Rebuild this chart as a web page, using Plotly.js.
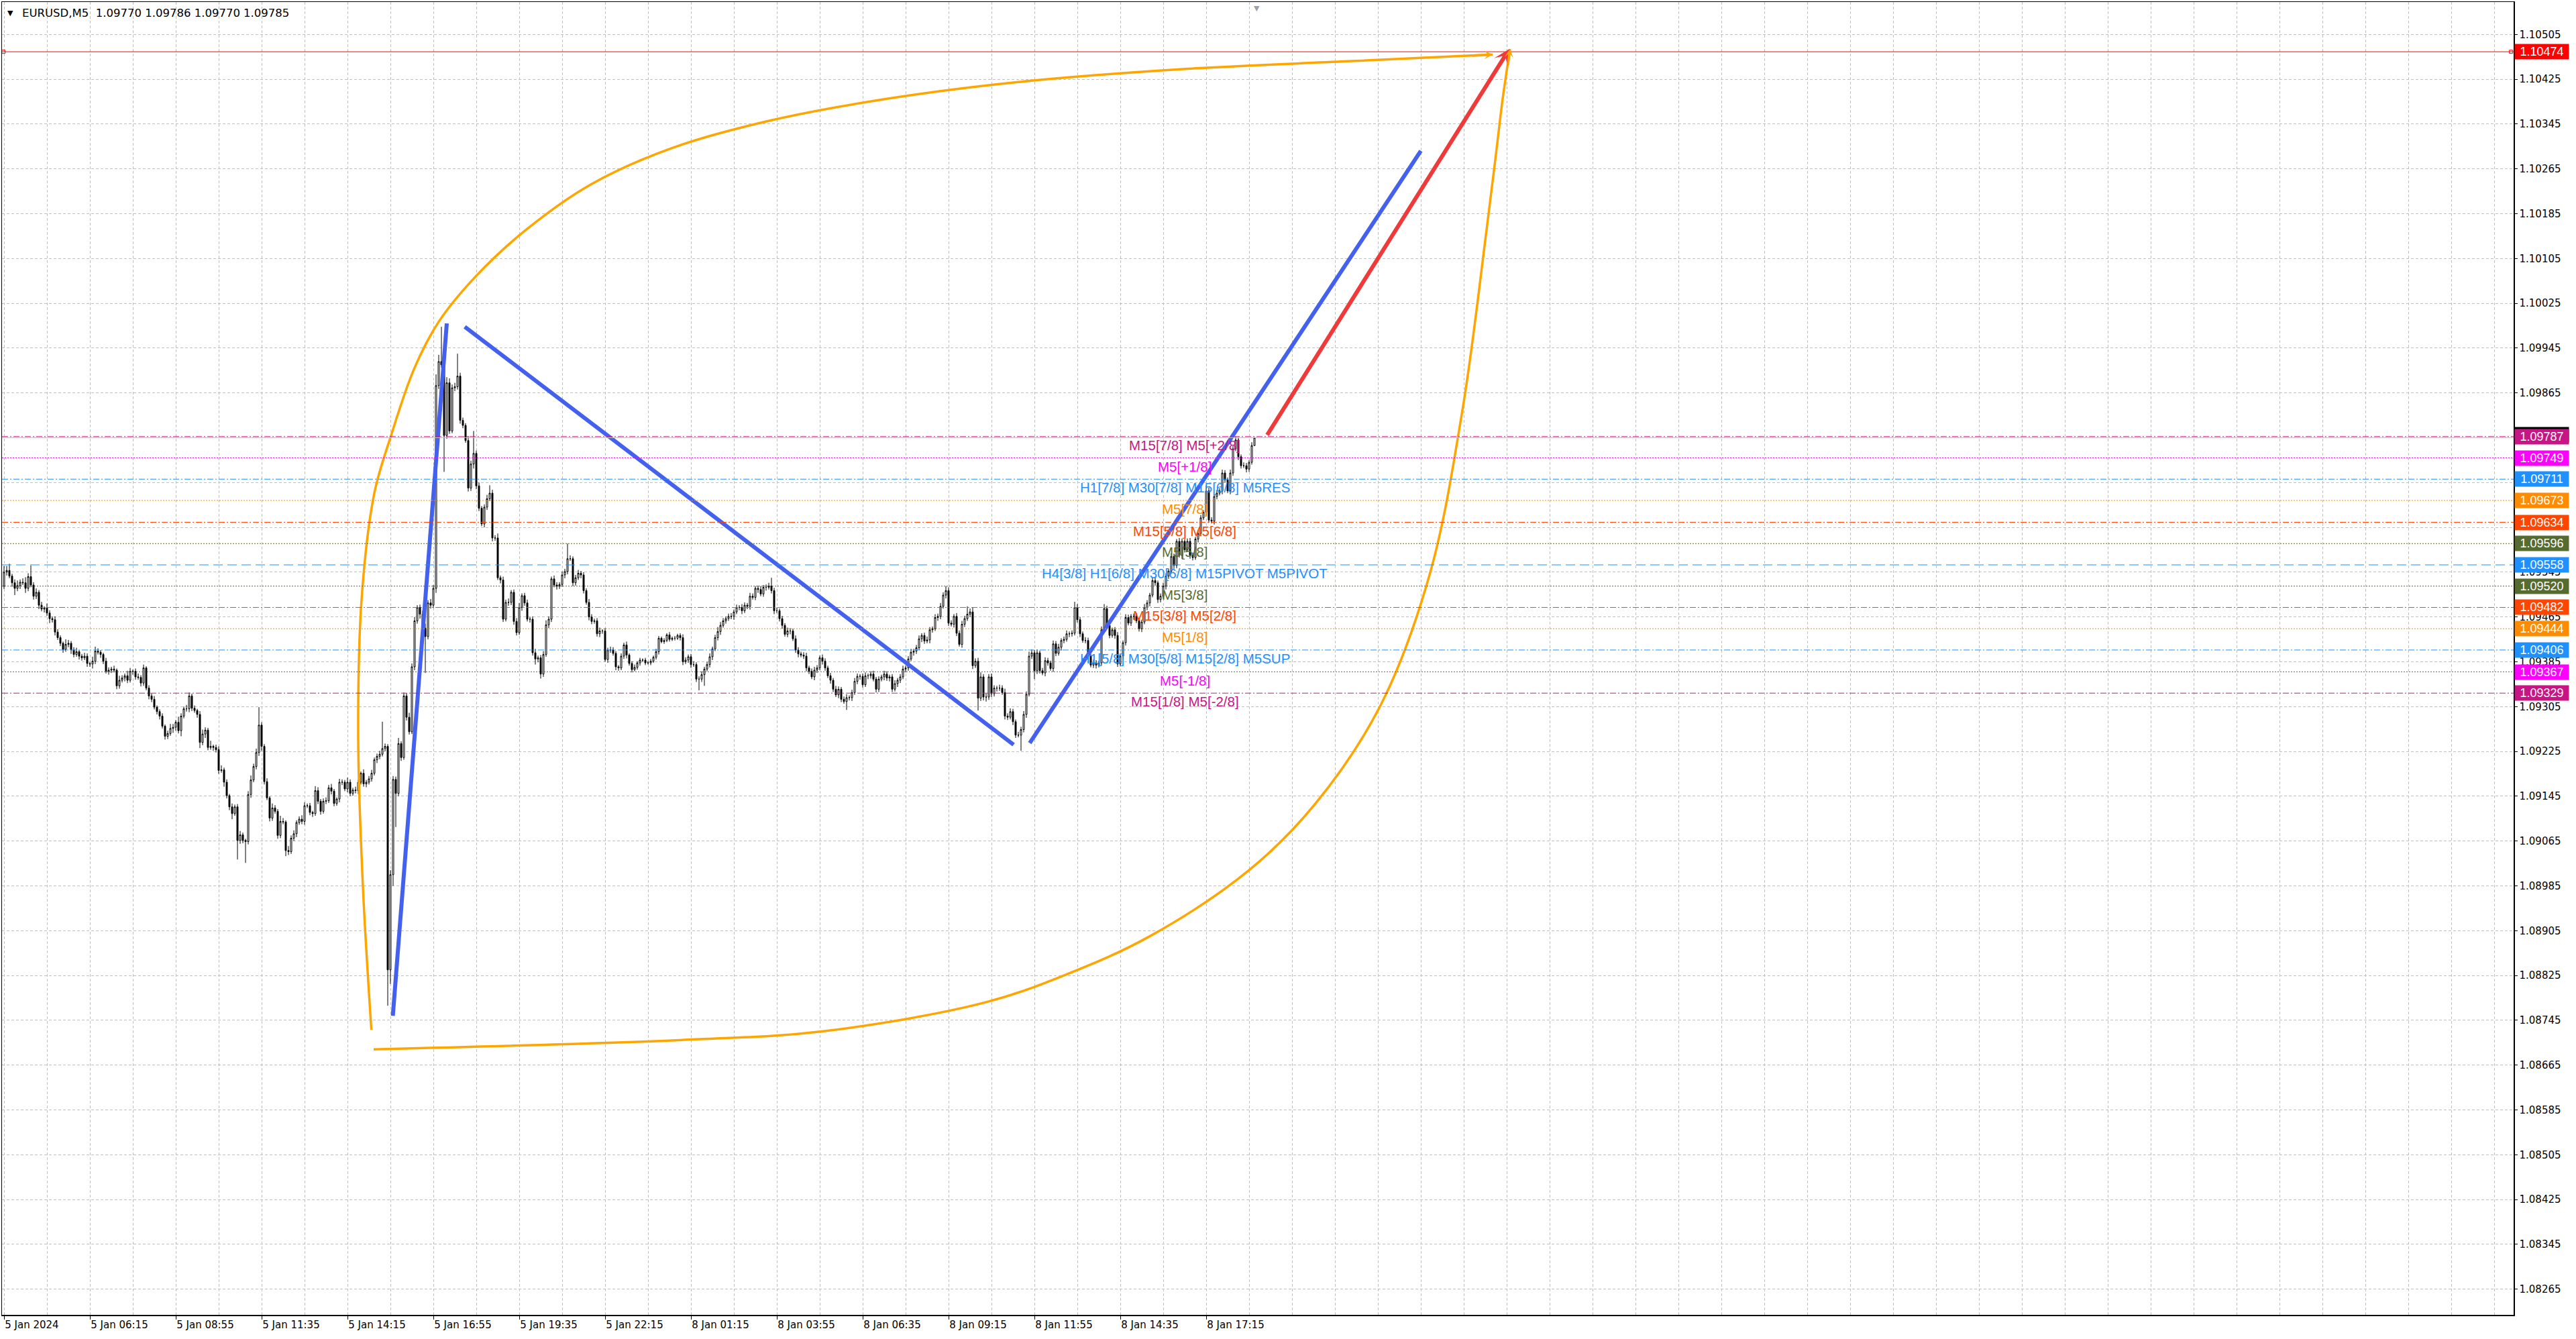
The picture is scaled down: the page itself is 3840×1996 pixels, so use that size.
<!DOCTYPE html>
<html><head><meta charset="utf-8">
<script src="https://cdn.plot.ly/plotly-3.0.1.min.js"></script>
<style>html,body{margin:0;padding:0;background:#fff;}#chart{width:3840px;height:1996px;}</style>
</head><body><div id="chart"></div>
<script>
// ---------------- DATA ----------------
const symbolTitle = 'EURUSD,M5\u00a0\u00a01.09770 1.09786 1.09770 1.09785';
const basePrice = 1.09;       // prices below are stored in points above this base
const pointSize = 0.00001;
const firstOpen = 520;

const closePts = [
545,548,538,526,516,521,527,526,516,537,
522,502,509,486,479,481,472,462,460,438,
428,418,407,416,418,406,398,403,395,392,
395,382,381,386,404,402,398,386,368,370,
372,370,342,352,356,360,352,368,368,358,
357,347,374,338,324,318,304,296,288,270,
252,257,266,268,277,262,288,301,301,324,
302,298,291,241,256,263,232,234,232,228,
191,192,170,146,126,114,126,66,76,66,
64,148,174,198,223,272,234,171,142,106,
124,118,75,100,99,48,46,70,78,98,
104,100,128,128,116,114,155,136,118,136,
137,160,154,132,140,170,170,158,170,150,
156,155,170,186,167,170,176,186,210,216,
220,230,234,-165,5,175,150,239,214,324,
286,260,376,458,482,470,445,430,490,486,
516,878,921,915,789,883,797,874,876,895,
816,807,780,695,738,757,699,659,631,661,
676,686,606,606,535,531,461,491,491,509,
457,437,482,503,490,461,461,401,390,392,
363,398,451,461,533,522,520,523,540,546,
569,569,526,535,543,540,512,491,465,457,
458,435,440,440,389,406,406,400,376,374,
395,415,397,382,371,375,383,388,388,383,
383,386,393,403,427,421,423,433,425,427,
427,432,428,385,388,394,380,380,354,354,
362,372,380,394,408,428,439,450,458,462,
466,466,474,482,482,476,486,484,502,500,
516,514,506,518,518,520,512,476,476,462,
450,434,440,440,426,406,399,397,395,374,
368,358,370,374,392,386,374,360,352,336,
326,336,318,314,321,321,330,350,359,359,
344,360,360,363,354,336,354,358,363,356,
358,336,346,352,358,372,374,390,402,404,
410,426,432,422,424,442,444,464,466,484,
504,512,454,452,466,436,416,452,462,470,
474,378,386,320,358,322,322,358,328,338,
338,338,330,288,286,296,278,254,254,264,
291,327,395,401,369,401,369,365,387,383,
373,417,400,411,423,425,435,435,436,482,
460,435,423,423,395,379,383,379,383,442,
480,450,432,442,432,381,395,419,464,454,
466,466,458,444,456,482,490,504,530,526,
496,502,520,538,547,573,557,600,575,600,
585,600,575,571,604,614,642,652,690,638,
636,680,686,690,722,710,690,722,765,781,
751,735,735,729,741,771,785];

const upperWick = [
11,8,12,4,6,9,5,7,10,6,
20,5,7,4,6,3,8,5,4,6,
5,4,3,9,6,4,5,7,3,4,
6,5,3,8,8,5,4,3,6,5,
4,6,3,8,5,4,9,6,3,5,
6,4,6,3,5,4,6,3,4,5,
3,5,8,6,4,10,5,4,7,6,
4,5,3,6,8,5,4,10,3,5,
6,8,4,5,3,6,4,5,7,4,
3,6,8,5,7,32,5,4,6,3,
8,5,4,10,6,3,8,5,6,4,
5,7,6,4,5,3,8,6,4,5,
6,5,7,4,3,6,5,4,8,5,
4,6,5,3,7,4,5,6,4,5,
6,48,5,4,8,6,5,10,4,6,
5,8,6,7,4,5,6,8,5,7,
6,20,12,62,5,10,8,6,7,40,
6,5,4,8,6,40,5,6,4,5,
7,14,6,5,8,4,6,5,7,4,
5,6,8,4,5,6,4,5,7,4,
5,6,8,5,4,6,5,4,6,5,
27,6,4,5,6,4,5,4,6,5,
4,5,6,3,5,4,6,5,4,3,
5,4,6,3,4,5,3,4,3,4,
3,4,3,5,4,3,4,3,5,3,
4,3,4,6,5,4,5,6,4,5,
6,4,5,6,4,5,8,6,5,4,
5,6,4,5,4,6,5,4,6,5,
4,5,6,4,5,6,15,5,6,4,
5,4,6,5,4,6,5,4,5,6,
4,5,6,5,4,6,5,4,5,4,
6,5,4,5,6,4,5,6,5,4,
5,6,4,5,6,4,5,4,6,5,
4,5,6,4,5,6,4,5,6,4,
5,6,4,5,6,5,4,6,5,6,
5,8,6,5,4,6,5,6,5,14,
6,8,5,6,8,5,6,5,6,5,
4,6,5,7,5,6,5,4,6,5,
6,5,8,6,5,6,4,5,6,5,
4,6,5,6,4,5,6,4,5,10,
6,5,4,6,5,4,6,5,4,6,
8,5,6,4,5,6,5,4,6,5,
4,5,6,5,4,6,5,4,6,5,
4,5,6,5,4,6,5,4,6,5,
4,5,6,5,4,6,5,4,10,6,
5,4,6,5,6,5,4,6,5,6,
5,4,6,5,4,6,1];

const lowerWick = [
5,6,4,7,12,5,6,4,8,5,
4,6,5,7,4,6,5,8,5,6,
4,5,6,4,5,7,5,4,6,5,
4,6,5,8,5,4,6,5,4,6,
5,4,6,5,4,6,5,4,6,5,
4,6,5,4,6,5,4,5,6,4,
6,5,4,8,6,5,10,4,5,6,
5,4,6,10,5,7,5,4,6,5,
6,4,8,5,6,10,4,34,6,5,
38,5,6,4,5,6,8,5,4,6,
5,4,6,5,4,10,6,4,5,6,
4,5,6,4,5,6,4,5,6,4,
5,4,6,5,4,6,5,4,6,5,
4,5,6,4,5,6,4,5,4,6,
5,4,5,64,25,20,60,5,6,4,
6,5,4,6,5,8,6,65,5,6,
5,8,6,5,65,6,5,4,6,5,
6,5,4,6,5,8,6,5,4,6,
5,4,6,5,4,6,5,4,6,5,
6,5,4,6,5,4,6,5,10,6,
8,5,4,6,5,4,6,5,4,6,
5,4,6,5,4,6,5,4,6,5,
4,5,6,5,4,6,5,4,6,5,
4,5,6,4,5,3,4,5,3,4,
3,4,3,4,5,3,4,3,4,3,
4,3,5,6,4,5,6,4,5,20,
5,20,4,5,6,4,5,6,4,5,
4,5,6,4,5,6,4,5,6,4,
5,6,4,5,6,4,5,6,4,5,
6,4,5,6,4,5,6,4,5,6,
5,4,6,5,4,6,5,4,6,5,
4,6,5,4,15,5,6,4,5,6,
5,4,6,5,4,6,5,4,6,5,
6,5,4,6,5,4,6,5,4,6,
5,4,6,5,4,6,5,4,6,5,
4,6,5,4,6,5,4,6,5,4,
5,6,4,22,5,6,8,5,6,5,
6,5,4,6,5,4,6,5,4,28,
5,6,4,5,15,6,5,4,6,5,
4,6,5,4,6,5,4,6,5,4,
5,6,4,5,6,4,5,6,4,5,
4,6,5,4,6,5,4,6,5,4,
5,6,4,5,6,4,5,6,4,5,
6,5,4,6,5,4,6,5,4,6,
5,4,6,5,4,6,5,4,6,5,
4,6,5,4,6,5,4,6,5,4,
6,5,4,6,5,4,1];

const tickIdx = [0,32,64,96,128,160,192,224,256,288,320,352,384,416,448];
const tickLabels = ['5 Jan 2024','5 Jan 06:15','5 Jan 08:55','5 Jan 11:35','5 Jan 14:15','5 Jan 16:55','5 Jan 19:35','5 Jan 22:15','8 Jan 01:15','8 Jan 03:55','8 Jan 06:35','8 Jan 09:15','8 Jan 11:55','8 Jan 14:35','8 Jan 17:15'];
const priceTicks = [1.08265,1.08345,1.08425,1.08505,1.08585,1.08665,1.08745,1.08825,1.08905,1.08985,1.09065,1.09145,1.09225,1.09305,1.09385,1.09465,1.09545,1.09625,1.09705,1.09785,1.09865,1.09945,1.10025,1.10105,1.10185,1.10265,1.10345,1.10425,1.10505];
// tick labels fully covered by level price boxes in the reference
const priceTicksHidden = [1.09625,1.09705,1.09785];

const levelPrices = [1.09787,1.09749,1.09711,1.09673,1.09634,1.09596,1.09558,1.09520,1.09482,1.09444,1.09406,1.09367,1.09329];
const levelTexts = ['M15[7/8] M5[+2/8]','M5[+1/8]','H1[7/8] M30[7/8] M15[6/8] M5RES','M5[7/8]','M15[5/8] M5[6/8]','M5[5/8]','H4[3/8] H1[6/8] M30[6/8] M15PIVOT M5PIVOT','M5[3/8]','M15[3/8] M5[2/8]','M5[1/8]','H1[5/8] M30[5/8] M15[2/8] M5SUP','M5[-1/8]','M15[1/8] M5[-2/8]'];
const levelColors = ['#C71585','#FF00FF','#1E90FF','#FF8C00','#FF4500','#556B2F','#1E90FF','#556B2F','#FF4500','#FF8C00','#1E90FF','#FF00FF','#C71585'];
const levelStyles = ['dashdot','dot','dashdot','dot','dashdot','dot','longdash','dot','dashdot','dot','dashdot','dot','dashdot'];

const targetPrice = 1.10474;
const bidPrice = 1.09785;

// hand drawn objects (bar index, price)
const zigzagIdx = [[144.9,165],[171.7,376.25],[382.25,528]];
const zigzagPrice = [[1.08753,1.09989],[1.09983,1.09237],[1.09240,1.10297]];
const redArrowIdx = [470.5,561];
const redArrowPrice = [1.09788,1.10479];
const arcTopIdx = [136.9,133.75,132,133.25,138,144.25,152.75,162,176,194.5,219,249.5,286.25,329,378,439.25,500.5,554.75];
const arcTopPrice = [1.08728,1.08983,1.09247,1.09496,1.09686,1.09789,1.09907,1.09992,1.10074,1.10156,1.10238,1.10303,1.10352,1.10390,1.10420,1.10443,1.10457,1.10469];
const arcSideIdx = [137.75,253.5,304.75,365.75,396.5,427,463.75,488.25,512.75,531.25,543.5,552.5,556,558.5,561.25];
const arcSidePrice = [1.08693,1.08710,1.08725,1.08777,1.08828,1.08895,1.09012,1.09129,1.09305,1.09540,1.09834,1.10156,1.10291,1.10390,1.10479];

// ---------------- BUILD ----------------
const toPrice = v => +(basePrice + v * pointSize).toFixed(5);
const idx = [], O = [], H = [], L = [], C = [];
for (let i = 0; i < closePts.length; i++) {
  const o = i === 0 ? firstOpen : closePts[i - 1];
  const c = closePts[i];
  idx.push(i);
  O.push(toPrice(o)); C.push(toPrice(c));
  H.push(toPrice(Math.max(o, c) + upperWick[i]));
  L.push(toPrice(Math.min(o, c) - lowerWick[i]));
}

const dashMap = {dashdot:'9px,3px,2px,3px', dot:'2px,2px', longdash:'14px,7px'};
const FONT_AX = 'DejaVu Sans, Verdana, sans-serif';
const FONT_TXT = 'Liberation Sans, Arial, sans-serif';

const traces = [];
traces.push({
  type:'candlestick', x: idx, open:O, high:H, low:L, close:C,
  increasing:{line:{color:'#000000', width:1}, fillcolor:'#ffffff'},
  decreasing:{line:{color:'#000000', width:1}, fillcolor:'#000000'},
  whiskerwidth:0, hoverinfo:'skip', showlegend:false
});
traces.push({type:'scatter', mode:'lines', x:arcTopIdx, y:arcTopPrice,
  line:{color:'#FFA500', width:3.5, shape:'spline', smoothing:1}, hoverinfo:'skip', showlegend:false});
traces.push({type:'scatter', mode:'lines', x:arcSideIdx, y:arcSidePrice,
  line:{color:'#FFA500', width:3.5, shape:'spline', smoothing:1}, hoverinfo:'skip', showlegend:false});
for (let k = 0; k < zigzagIdx.length; k++) {
  traces.push({type:'scatter', mode:'lines', x:zigzagIdx[k], y:zigzagPrice[k],
    line:{color:'#4361EE', width:6}, hoverinfo:'skip', showlegend:false});
}
// small squares at ends of target line
traces.push({type:'scatter', mode:'markers', x:[-0.2, 934.3], y:[targetPrice, targetPrice],
  marker:{symbol:'square-open', size:5, color:'#FF0000', line:{width:1}}, hoverinfo:'skip', showlegend:false, cliponaxis:false});

const shapes = [];
shapes.push({type:'line', xref:'paper', x0:0, x1:1, yref:'y', y0:bidPrice, y1:bidPrice, line:{color:'#C0C0C0', width:1}});
for (let k = 0; k < levelPrices.length; k++) {
  shapes.push({type:'line', xref:'paper', x0:0, x1:1, yref:'y', y0:levelPrices[k], y1:levelPrices[k],
    line:{color:levelColors[k], width:1, dash:dashMap[levelStyles[k]]}});
}
shapes.push({type:'line', xref:'paper', x0:0, x1:1, yref:'y', y0:targetPrice, y1:targetPrice, line:{color:'#FF0000', width:1}});

const ann = [];
// title
ann.push({xref:'paper', yref:'paper', x:0, y:1, xanchor:'left', yanchor:'middle', xshift:6, yshift:-16,
  text:'▼', showarrow:false, font:{family:FONT_AX, size:11, color:'#000'}});
ann.push({xref:'paper', yref:'paper', x:0, y:1, xanchor:'left', yanchor:'middle', xshift:28, yshift:-16,
  text:symbolTitle, showarrow:false, font:{family:FONT_AX, size:16.5, color:'#000'}});
// level labels
for (let k = 0; k < levelPrices.length; k++) {
  ann.push({xref:'x', yref:'y', x:440, y:levelPrices[k], xanchor:'center', yanchor:'top', yshift:1,
    text:levelTexts[k], showarrow:false, font:{family:FONT_TXT, size:20.5, color:levelColors[k]}});
}
// price boxes on axis
function priceBox(p, color, yshift) {
  ann.push({xref:'paper', yref:'y', x:1, y:p, xanchor:'left', yanchor:'middle', xshift:1, yshift:yshift||0,
    text:p.toFixed(5), showarrow:false, bgcolor:color, width:76, height:18, borderpad:2, align:'center',
    font:{family:FONT_TXT, size:18, color:'#ffffff'}});
}
priceBox(bidPrice, '#000000', 4);
for (let k = 0; k < levelPrices.length; k++) priceBox(levelPrices[k], levelColors[k]);
priceBox(targetPrice, '#FF0000');
// red arrow
ann.push({xref:'x', yref:'y', axref:'x', ayref:'y', x:redArrowIdx[1], y:redArrowPrice[1], ax:redArrowIdx[0], ay:redArrowPrice[0],
  text:'', showarrow:true, arrowhead:3, arrowsize:0.65, arrowwidth:6, arrowcolor:'#F03A3A'});
// orange arrow heads at curve tips
ann.push({xref:'x', yref:'y', axref:'x', ayref:'y', x:arcTopIdx[arcTopIdx.length-1], y:arcTopPrice[arcTopPrice.length-1],
  ax:arcTopIdx[arcTopIdx.length-1]-8, ay:arcTopPrice[arcTopPrice.length-1]-0.00002,
  text:'', showarrow:true, arrowhead:3, arrowsize:0.6, arrowwidth:3.5, arrowcolor:'#FFA500'});
ann.push({xref:'x', yref:'y', axref:'x', ayref:'y', x:arcSideIdx[arcSideIdx.length-1], y:arcSidePrice[arcSidePrice.length-1],
  ax:arcSideIdx[arcSideIdx.length-1]-0.8, ay:arcSidePrice[arcSidePrice.length-1]-0.0003,
  text:'', showarrow:true, arrowhead:3, arrowsize:0.6, arrowwidth:3.5, arrowcolor:'#FFA500'});
// chart shift marker
ann.push({xref:'x', yref:'paper', x:466.75, y:1, xanchor:'center', yanchor:'top', yshift:-1,
  text:'▼', showarrow:false, font:{family:FONT_AX, size:11, color:'#A0A0A0'}});

const minorVals = [];
for (let v = 16; v <= 928; v += 16) if (tickIdx.indexOf(v) < 0) minorVals.push(v);

const layout = {
  width:3840, height:1996,
  margin:{l:3, r:93, t:3, b:36, pad:0},
  paper_bgcolor:'#ffffff', plot_bgcolor:'#ffffff',
  showlegend:false,
  xaxis:{
    range:[-0.75, 935.25], type:'linear', rangeslider:{visible:false},
    tickmode:'array', tickvals:tickIdx, ticktext:tickLabels,
    ticks:'outside', ticklen:5, tickcolor:'#000', tickwidth:1,
    ticklabelposition:'outside right',
    tickfont:{family:FONT_AX, size:15, color:'#000'},
    showgrid:true, gridcolor:'#C0C0C0', gridwidth:1, griddash:'4px,3px',
    minor:{tickmode:'array', tickvals:minorVals, showgrid:true, gridcolor:'#C0C0C0', gridwidth:1, griddash:'4px,3px', ticks:''},
    showline:true, linecolor:'#000', linewidth:1.5, mirror:true, zeroline:false, fixedrange:true
  },
  yaxis:{
    side:'right', range:[1.082191, 1.105628],
    tickmode:'array', tickvals:priceTicks,
    ticktext:priceTicks.map(p => priceTicksHidden.indexOf(p) >= 0 ? '' : p.toFixed(5)),
    ticks:'outside', ticklen:4, tickcolor:'#000', tickwidth:1,
    tickfont:{family:FONT_AX, size:15, color:'#000'},
    showgrid:true, gridcolor:'#C0C0C0', gridwidth:1, griddash:'4px,3px',
    showline:true, linecolor:'#000', linewidth:1.5, mirror:true, zeroline:false, fixedrange:true
  },
  shapes:shapes,
  annotations:ann
};

Plotly.newPlot('chart', traces, layout, {staticPlot:true, displayModeBar:false});
</script>
</body></html>
